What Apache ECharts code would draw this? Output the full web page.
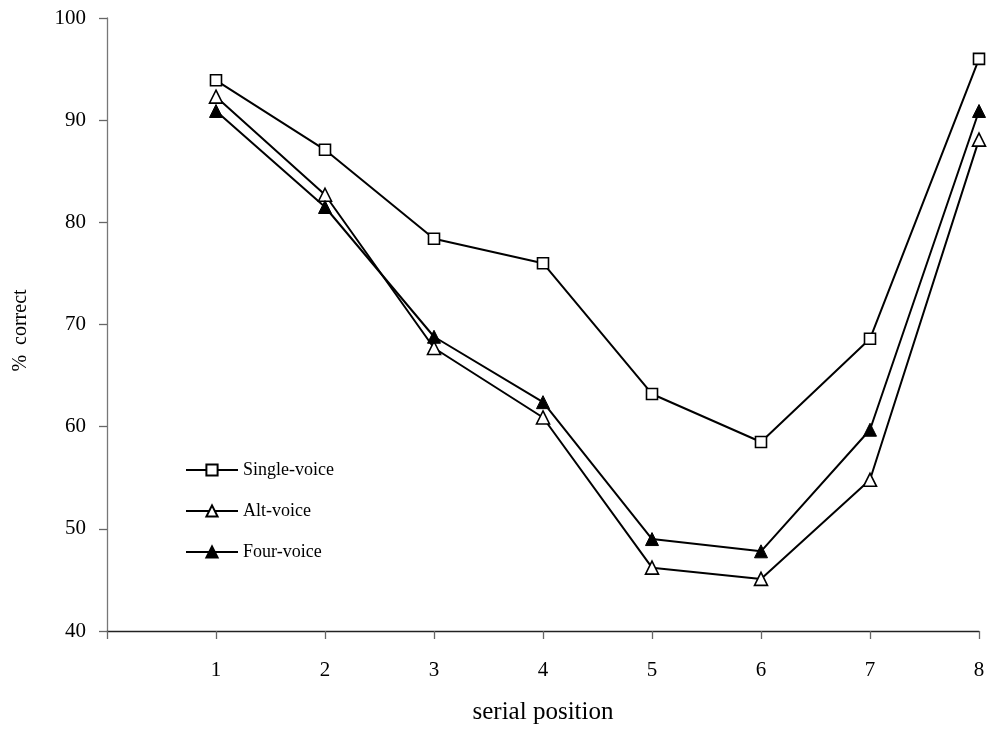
<!DOCTYPE html>
<html><head><meta charset="utf-8">
<script src="https://cdn.jsdelivr.net/npm/echarts@6/dist/echarts.min.js"></script>
<style>html,body{margin:0;padding:0;background:#fff}#c{width:989px;height:736px}</style>
</head><body><div id="c"></div>
<script>
const positions = [1, 2, 3, 4, 5, 6, 7, 8];
const singleVoice = [93.9, 87.1, 78.4, 76.0, 63.2, 58.5, 68.6, 96.0];
const altVoice = [92.3, 82.7, 67.7, 60.9, 46.2, 45.1, 54.8, 88.1];
const fourVoice = [90.9, 81.5, 68.8, 62.4, 49.0, 47.8, 59.7, 90.9];
const seriesNames = ['Single-voice', 'Alt-voice', 'Four-voice'];
const yMin = 40, yMax = 100, yStep = 10;

const font = '"Liberation Serif", "Times New Roman", serif';
const pairs = arr => positions.map((p, i) => [p, arr[i]]);

const chart = echarts.init(document.getElementById('c'), null, {renderer: 'canvas'});
chart.setOption({
  animation: false,
  backgroundColor: '#fff',
  grid: {left: 107, right: 10, top: 18, bottom: 105, containLabel: false},
  legend: {
    orient: 'vertical', left: 180, top: 456,
    itemWidth: 52, itemHeight: 14, itemGap: 23,
    data: seriesNames,
    textStyle: {fontFamily: font, fontSize: 18, color: '#000'}
  },
  xAxis: {
    type: 'value', min: 0, max: 8, interval: 1,
    name: 'serial position', nameLocation: 'middle', nameGap: 69,
    nameTextStyle: {fontFamily: font, fontSize: 25, color: '#000'},
    axisLine: {show: true, lineStyle: {color: '#222', width: 1.3}},
    axisTick: {show: true, length: 8, lineStyle: {color: '#666', width: 1.3}},
    axisLabel: {fontFamily: font, fontSize: 21, color: '#000', margin: 29,
      formatter: v => (v === 0 ? '' : String(v))},
    splitLine: {show: false}
  },
  yAxis: {
    type: 'value', min: yMin, max: yMax, interval: yStep,
    name: '%  correct', nameLocation: 'middle', nameGap: 76, nameRotate: 90,
    nameTextStyle: {fontFamily: font, fontSize: 20, color: '#000', padding: [0, 12, 0, 0]},
    axisLine: {show: true, lineStyle: {color: '#777', width: 1.3}},
    axisTick: {show: true, length: 8, lineStyle: {color: '#666', width: 1.3}},
    axisLabel: {fontFamily: font, fontSize: 21, color: '#000', margin: 21},
    splitLine: {show: false}
  },
  series: [
    {name: seriesNames[0], type: 'line', data: pairs(singleVoice),
     symbol: 'rect', symbolSize: 11,
     lineStyle: {color: '#000', width: 2},
     itemStyle: {color: '#fff', borderColor: '#000', borderWidth: 1.6}},
    {name: seriesNames[1], type: 'line', data: pairs(altVoice),
     symbol: 'triangle', symbolSize: 13,
     lineStyle: {color: '#000', width: 2},
     itemStyle: {color: '#fff', borderColor: '#000', borderWidth: 1.6}},
    {name: seriesNames[2], type: 'line', data: pairs(fourVoice),
     symbol: 'triangle', symbolSize: 13,
     lineStyle: {color: '#000', width: 2},
     itemStyle: {color: '#000', borderColor: '#000', borderWidth: 1}}
  ]
});
</script></body></html>
